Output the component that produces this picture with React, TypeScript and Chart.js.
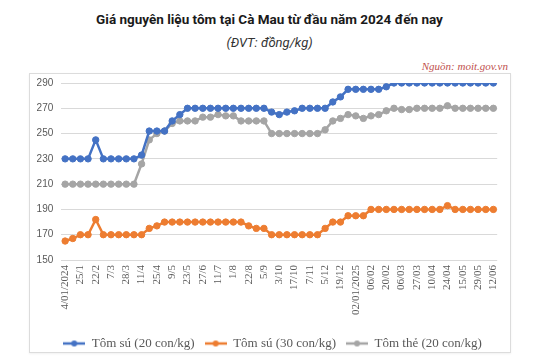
import React, { useEffect, useRef } from "react";
import { Chart, registerables } from "chart.js";

Chart.register(...registerables);

const tickLabels = [
  "4/01/2024", "25/1", "22/2", "7/3", "28/3", "11/4", "25/4", "9/5", "23/5", "27/6",
  "11/7", "1/8", "22/8", "5/9", "3/10", "17/10", "7/11", "5/12", "19/12", "02/01/2025",
  "06/02", "20/02", "06/03", "27/03", "10/04", "24/04", "15/05", "29/05", "12/06",
];

// every other observation carries a tick label
const categories: string[] = tickLabels.flatMap((t, i) => (i < tickLabels.length - 1 ? [t, ""] : [t]));

const tomSu20 = [
  230, 230, 230, 230, 245, 230, 230, 230, 230, 230,
  233, 252, 252, 252, 260, 265, 270, 270, 270, 270,
  270, 270, 270, 270, 270, 270, 270, 267, 265, 267,
  268, 270, 270, 270, 270, 275, 279, 285, 285, 285,
  285, 285, 287, 290, 290, 290, 290, 290, 290, 290,
  290, 290, 290, 290, 290, 290, 290,
];

const tomSu30 = [
  165, 167, 170, 170, 182, 170, 170, 170, 170, 170,
  170, 175, 177, 180, 180, 180, 180, 180, 180, 180,
  180, 180, 180, 180, 177, 175, 175, 170, 170, 170,
  170, 170, 170, 170, 175, 180, 180, 185, 185, 185,
  190, 190, 190, 190, 190, 190, 190, 190, 190, 190,
  193, 190, 190, 190, 190, 190, 190,
];

const tomThe20 = [
  210, 210, 210, 210, 210, 210, 210, 210, 210, 210,
  226, 245, 250, 252, 258, 260, 260, 260, 263, 263,
  265, 264, 264, 260, 260, 260, 260, 250, 250, 250,
  250, 250, 250, 250, 253, 260, 262, 265, 264, 262,
  264, 265, 268, 270, 269, 269, 270, 270, 270, 270,
  272, 270, 270, 270, 270, 270, 270,
];

const seriesNames = ["Tôm sú (20 con/kg)", "Tôm sú (30 con/kg)", "Tôm thẻ (20 con/kg)"];
const seriesColors = ["#4472c4", "#ed7d31", "#a5a5a5"];
const yTicks = { min: 150, max: 290, step: 20 };

function makeIcon(color: string): HTMLCanvasElement {
  const c = document.createElement("canvas");
  c.width = 22;
  c.height = 8;
  const ctx = c.getContext("2d")!;
  ctx.strokeStyle = color;
  ctx.lineWidth = 2.5;
  ctx.beginPath();
  ctx.moveTo(0, 4);
  ctx.lineTo(22, 4);
  ctx.stroke();
  ctx.fillStyle = color;
  ctx.beginPath();
  ctx.arc(11, 4, 3, 0, Math.PI * 2);
  ctx.fill();
  return c;
}

// nudges the legend so it is centred under the whole frame rather than the plot
const legendShift = {
  id: "legendShift",
  afterLayout(chart: any) {
    const lg = chart.legend;
    if (lg) {
      lg.left += 6;
      lg.right += 6;
    }
  },
};

export default function App() {
  const ref = useRef<HTMLCanvasElement>(null);

  useEffect(() => {
    if (!ref.current) return;
    const icons = seriesColors.map(makeIcon);
    const values = [tomSu20, tomSu30, tomThe20];
    const chart = new Chart(ref.current, {
      type: "line",
      data: {
        labels: categories,
        datasets: values.map((v, i) => ({
          label: seriesNames[i],
          data: v,
          borderColor: seriesColors[i],
          backgroundColor: seriesColors[i],
          borderWidth: 2.5,
          pointRadius: 3.2,
          pointBorderWidth: 1,
          pointBackgroundColor: seriesColors[i],
          pointBorderColor: seriesColors[i],
          tension: 0,
        })),
      },
      plugins: [legendShift],
      options: {
        animation: false,
        responsive: false,
        maintainAspectRatio: false,
        layout: { padding: { left: 35.8, right: 41.8, top: 83, bottom: 0 } },
        plugins: {
          title: { display: false },
          tooltip: { enabled: false },
          legend: {
            position: "bottom",
            labels: {
              usePointStyle: true,
              pointStyleWidth: 22,
              padding: 10,
              color: "#595959",
              font: { family: "'Liberation Serif', serif", size: 13 },
              generateLabels: (ch: any) =>
                Chart.defaults.plugins.legend.labels
                  .generateLabels(ch)
                  .map((l: any, i: number) => ({ ...l, pointStyle: icons[i] })),
            },
          },
        },
        scales: {
          x: {
            offset: true,
            grid: { display: false, drawTicks: false },
            border: { display: false },
            ticks: {
              autoSkip: false,
              minRotation: 90,
              maxRotation: 90,
              padding: 5,
              color: "#595959",
              font: { family: "'Liberation Serif', serif", size: 11 },
            },
            afterFit: (s: any) => {
              s.height = 67;
            },
          },
          y: {
            min: yTicks.min,
            max: yTicks.max,
            grid: { color: "#d9d9d9", lineWidth: 1, drawTicks: false },
            border: { display: false },
            ticks: {
              stepSize: yTicks.step,
              padding: 8,
              color: "#595959",
              font: { family: "'Liberation Sans', sans-serif", size: 10 },
            },
            afterFit: (s: any) => {
              s.width = 25.5;
            },
          },
        },
      },
    });
    return () => chart.destroy();
  }, []);

  return (
    <div style={{ position: "fixed", left: 0, top: 0, width: 539, height: 357, background: "#fff", overflow: "hidden" }}>
      <div
        style={{
          position: "absolute", left: 0, top: 10, width: 539, textAlign: "center",
          font: "bold 13.5px Roboto, sans-serif", lineHeight: "18px", color: "#1a1a1a",
        }}
      >
        Giá nguyên liệu tôm tại Cà Mau từ đầu năm 2024 đến nay
      </div>
      <div
        style={{
          position: "absolute", left: 0, top: 34, width: 539, textAlign: "center",
          font: "italic 13px Roboto, sans-serif", lineHeight: "18px", color: "#333",
        }}
      >
        (ĐVT: đồng/kg)
      </div>
      <div
        style={{
          position: "absolute", left: 29, top: 73, width: 480, height: 278,
          border: "1px solid #dcdcdc", boxShadow: "0 1px 2px rgba(0,0,0,0.06)", background: "#fff",
        }}
      />
      <div
        style={{
          position: "absolute", right: 31, top: 60, lineHeight: "13px",
          font: "italic 11px 'Liberation Serif', serif", color: "#c0504d",
        }}
      >
        Nguồn: moit.gov.vn
      </div>
      <canvas ref={ref} width={539} height={360} style={{ position: "absolute", left: 0, top: 0, width: 539, height: 360 }} />
    </div>
  );
}
